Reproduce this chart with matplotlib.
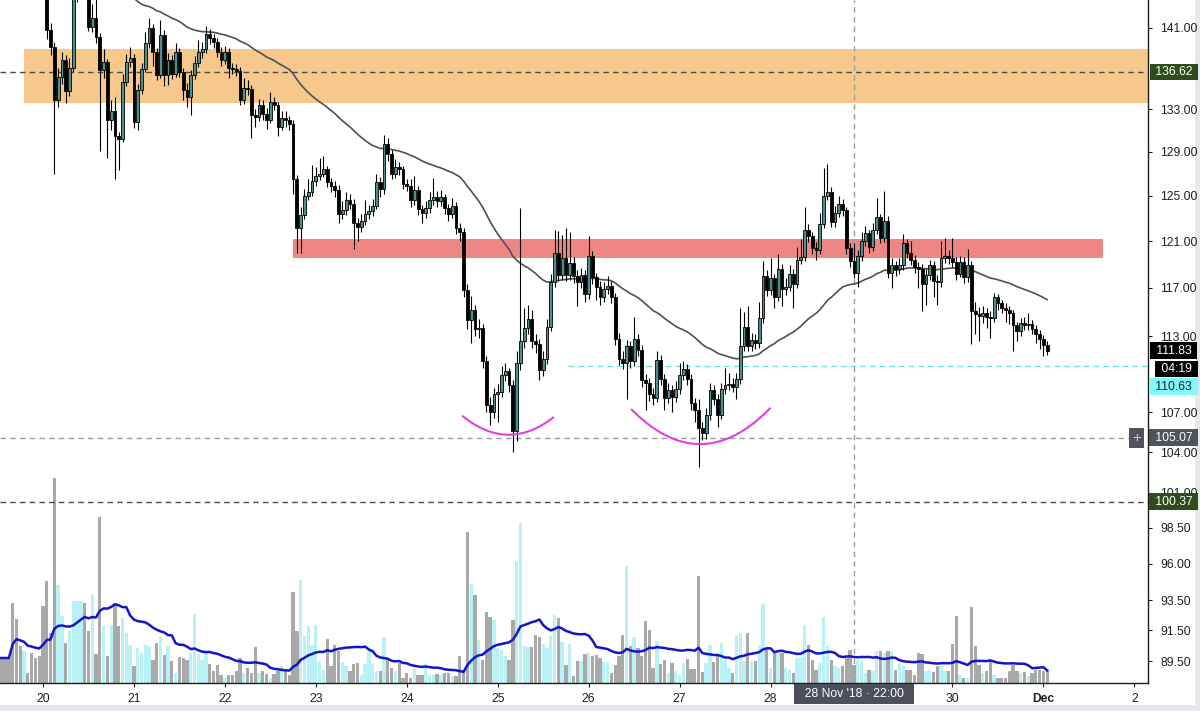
#!/usr/bin/env python3
"""Hourly candles with two zones, EMA, volume overlay and price tags."""
import numpy as np
import pandas as pd
import matplotlib
matplotlib.use("Agg")
import matplotlib.pyplot as plt
from matplotlib.patches import Rectangle
from matplotlib.ticker import FixedLocator, FixedFormatter, NullLocator, NullFormatter

plt.rcParams["font.family"] = ["Liberation Sans", "DejaVu Sans"]

START = pd.Timestamp("2018-11-19 13:00")
FIRST_OPEN = 158.5

closes = [
    157.5, 156.8, 155.2, 154.0, 153.1, 151.6, 152.4, 150.3, 149.1, 148.2,
    147.0, 145.5, 140.8, 139.1, 133.9, 136.1, 137.8, 134.8, 137.0, 144.2,
    145.3, 146.0, 145.0, 141.1, 142.0, 140.1, 136.8, 137.6, 132.0, 132.8,
    130.5, 130.2, 135.6, 137.6, 138.0, 131.8, 134.9, 136.9, 139.5, 141.0,
    138.6, 136.3, 140.3, 136.3, 137.8, 136.4, 138.6, 136.6, 134.9, 134.2,
    136.3, 137.5, 138.6, 138.9, 140.4, 140.0, 139.6, 138.6, 137.8, 138.6,
    137.0, 136.9, 136.7, 133.9, 135.1, 135.0, 132.5, 132.3, 133.4, 132.6,
    132.0, 133.7, 133.4, 131.3, 132.2, 132.0, 131.6, 126.5, 122.1, 123.3,
    125.0, 125.3, 126.3, 126.8, 127.0, 127.4, 126.2, 125.9, 125.5, 123.4,
    123.7, 124.6, 124.3, 122.6, 122.2, 122.8, 123.4, 123.6, 124.1, 126.2,
    125.6, 129.7, 128.8, 127.0, 127.6, 127.4, 126.1, 125.9, 124.6, 125.5,
    123.8, 123.5, 123.9, 124.6, 124.9, 124.5, 124.9, 123.9, 123.4, 124.1,
    122.1, 121.8, 116.8, 114.3, 115.2, 113.6, 113.7, 111.0, 107.6, 107.0,
    108.4, 108.6, 109.9, 110.2, 109.1, 105.6, 110.9, 112.6, 113.7, 114.4,
    112.6, 112.4, 110.3, 111.2, 113.8, 117.5, 120.0, 118.1, 119.5, 118.1,
    119.1, 118.0, 117.5, 118.1, 116.5, 119.7, 117.9, 117.1, 116.2, 116.9,
    117.2, 116.2, 112.8, 111.2, 110.9, 112.2, 111.0, 112.8, 111.9, 109.5,
    109.3, 108.4, 108.1, 111.1, 109.6, 108.1, 108.7, 108.2, 108.8, 109.9,
    110.4, 109.6, 107.7, 107.2, 105.8, 105.4, 106.8, 108.7, 108.0, 106.8,
    108.8, 109.1, 109.2, 109.0, 109.6, 112.2, 113.8, 112.2, 112.7, 112.5,
    114.5, 118.0, 116.8, 117.8, 116.2, 118.6, 116.9, 117.1, 118.2, 117.3,
    119.4, 119.6, 122.0, 121.4, 120.4, 120.2, 122.5, 125.0, 125.3, 122.7,
    123.5, 124.3, 123.7, 120.4, 119.3, 118.3, 119.7, 121.0, 121.7, 120.5,
    122.0, 123.1, 121.3, 122.8, 118.3, 118.9, 118.6, 118.9, 120.8, 120.0,
    119.4, 118.8, 118.6, 117.3, 118.1, 118.9, 117.6, 117.5, 119.5, 119.7,
    119.5, 119.2, 118.2, 119.2, 117.9, 118.9, 115.1, 114.8, 114.7, 114.9,
    114.6, 114.5, 116.2, 115.7, 115.3, 115.2, 114.9, 113.9, 113.4, 114.1,
    113.9, 114.0, 113.6, 113.2, 112.8, 112.3, 111.83,
]

highs = [
    159.2, 158.1, 157.3, 155.8, 154.6, 153.7, 153.2, 152.9, 150.8, 149.7,
    148.9, 147.6, 146.0, 141.5, 139.6, 137.0, 138.6, 138.3, 138.0, 144.9,
    146.4, 147.1, 146.8, 145.6, 143.4, 144.6, 140.5, 138.9, 137.9, 133.9,
    134.2, 130.9, 136.4, 138.4, 139.1, 138.4, 135.4, 137.5, 140.6, 142.0,
    141.4, 139.0, 141.8, 140.8, 138.5, 138.3, 139.5, 139.0, 137.0, 135.5,
    136.8, 138.2, 139.8, 139.6, 141.2, 140.9, 140.4, 140.0, 139.1, 139.2,
    139.0, 137.5, 137.4, 137.1, 136.0, 135.8, 135.3, 133.0, 134.0, 133.9,
    133.1, 134.7, 134.2, 133.7, 132.8, 132.8, 132.4, 132.0, 126.9, 124.0,
    125.6, 126.5, 127.8, 127.6, 128.4, 128.6, 127.7, 126.6, 126.3, 126.0,
    124.5, 125.3, 125.2, 124.7, 123.0, 123.4, 124.6, 124.2, 124.7, 127.0,
    126.7, 130.6, 130.3, 129.2, 128.3, 128.1, 127.7, 126.5, 126.5, 126.8,
    125.9, 124.2, 124.5, 125.3, 126.6, 125.4, 125.5, 125.2, 124.3, 124.8,
    124.4, 122.6, 122.1, 117.3, 116.3, 115.6, 114.4, 114.0, 111.4, 108.2,
    108.9, 109.2, 110.6, 110.9, 110.5, 109.5, 111.8, 123.9, 115.3, 115.6,
    115.2, 113.2, 112.8, 111.8, 114.4, 118.2, 122.0, 121.9, 121.5, 122.1,
    121.8, 119.6, 118.5, 118.7, 118.5, 121.4, 120.1, 118.3, 117.6, 117.5,
    118.0, 117.6, 116.6, 113.3, 111.8, 112.7, 112.6, 114.6, 113.2, 112.3,
    110.0, 109.7, 108.9, 111.8, 111.5, 110.0, 109.3, 109.1, 109.4, 110.9,
    111.0, 110.8, 110.0, 108.1, 108.0, 106.3, 107.3, 109.3, 109.1, 108.4,
    109.3, 110.5, 110.1, 109.7, 110.1, 115.3, 115.0, 115.5, 113.3, 113.2,
    115.8, 119.3, 118.5, 119.5, 118.2, 119.9, 119.0, 117.8, 118.9, 118.6,
    120.5, 121.2, 124.0, 122.5, 121.8, 120.9, 123.5, 127.5, 127.9, 125.8,
    124.1, 125.0, 124.7, 124.0, 120.8, 120.8, 120.2, 121.8, 122.3, 122.0,
    122.6, 124.8, 123.4, 125.4, 123.2, 119.5, 119.3, 119.5, 121.6, 121.2,
    121.0, 119.8, 119.2, 119.0, 118.6, 119.4, 119.3, 118.1, 121.0, 121.3,
    120.2, 121.3, 119.6, 119.7, 119.6, 120.3, 119.3, 115.8, 115.4, 115.5,
    115.3, 115.1, 116.6, 116.5, 116.0, 115.7, 115.5, 115.2, 114.2, 114.5,
    114.6, 114.9, 114.3, 113.9, 113.5, 113.1, 112.6,
]

lows = [
    156.9, 156.2, 154.6, 153.4, 152.4, 150.9, 151.0, 149.6, 148.4, 147.5,
    146.2, 144.6, 139.9, 138.3, 127.0, 133.2, 135.4, 133.6, 134.3, 136.6,
    143.7, 144.8, 144.2, 140.7, 140.6, 139.5, 129.1, 136.0, 128.4, 131.0,
    126.5, 127.3, 129.9, 135.2, 137.1, 131.2, 131.0, 134.5, 136.6, 139.0,
    137.2, 135.8, 136.0, 135.2, 135.3, 135.9, 136.1, 136.1, 133.9, 133.2,
    132.5, 135.9, 137.1, 138.0, 138.5, 139.4, 139.0, 138.1, 137.2, 137.4,
    136.0, 136.4, 136.2, 133.4, 133.5, 134.4, 130.3, 131.3, 131.9, 132.0,
    131.1, 131.7, 132.9, 130.5, 131.0, 131.3, 131.0, 125.2, 120.0, 120.0,
    122.9, 124.6, 125.0, 125.9, 126.4, 126.7, 125.8, 125.3, 124.9, 122.6,
    122.9, 123.3, 123.8, 120.3, 121.0, 121.8, 122.4, 122.9, 123.2, 123.8,
    124.9, 125.2, 128.2, 126.5, 126.6, 126.9, 125.6, 125.4, 124.0, 124.2,
    123.3, 122.6, 123.0, 123.5, 124.2, 124.0, 124.1, 123.4, 122.8, 123.0,
    121.6, 121.0, 116.2, 113.6, 112.5, 113.0, 112.9, 110.5, 107.0, 106.0,
    106.6, 106.3, 108.2, 109.4, 108.6, 104.0, 104.8, 110.3, 112.1, 113.2,
    112.1, 111.7, 109.5, 109.8, 110.8, 113.4, 117.1, 117.6, 117.7, 117.6,
    117.7, 117.4, 115.5, 117.0, 115.8, 116.1, 117.3, 116.0, 115.6, 115.8,
    116.5, 115.7, 112.3, 110.7, 110.4, 108.0, 110.5, 110.6, 111.4, 109.0,
    107.2, 107.9, 107.6, 107.8, 109.1, 107.2, 107.7, 107.0, 107.8, 108.4,
    109.5, 109.1, 107.2, 106.3, 102.9, 104.9, 105.0, 106.4, 107.6, 105.9,
    106.5, 108.4, 108.7, 108.6, 108.0, 109.2, 111.8, 111.8, 111.8, 112.0,
    112.1, 114.1, 116.3, 116.4, 115.3, 115.9, 115.5, 116.4, 116.7, 115.3,
    117.0, 119.0, 119.3, 120.9, 119.9, 119.4, 119.9, 122.1, 124.6, 122.2,
    122.2, 123.1, 123.2, 119.9, 118.8, 117.8, 117.1, 119.3, 120.6, 120.0,
    120.1, 121.6, 120.8, 120.9, 117.8, 117.0, 118.0, 118.2, 118.5, 119.5,
    118.9, 118.3, 117.0, 115.1, 115.6, 117.7, 116.2, 115.6, 117.1, 119.1,
    119.0, 118.8, 117.7, 117.9, 117.4, 117.5, 112.4, 113.2, 112.6, 114.1,
    113.7, 112.9, 114.2, 115.2, 114.9, 114.2, 114.0, 111.8, 112.6, 113.0,
    113.5, 113.5, 113.2, 112.5, 112.0, 111.4, 111.5,
]

volumes = [
    25, 25, 25, 80, 64, 37, 32, 10, 30, 25,
    27, 77, 102, 50, 205, 98, 67, 40, 52, 82,
    82, 82, 80, 52, 88, 29, 166, 57, 27, 58,
    80, 57, 65, 50, 38, 17, 35, 30, 38, 37,
    23, 40, 47, 28, 37, 22, 10, 26, 25, 23,
    30, 69, 29, 23, 30, 19, 12, 18, 8, 5,
    8, 8, 12, 25, 10, 15, 10, 36, 10, 12,
    9, 5, 9, 12, 17, 12, 8, 91, 52, 103,
    47, 57, 38, 58, 22, 13, 44, 17, 38, 32,
    21, 17, 12, 19, 20, 8, 19, 32, 19, 12,
    12, 46, 25, 15, 12, 20, 5, 10, 5, 15,
    8, 8, 19, 8, 8, 9, 8, 10, 10, 7,
    7, 27, 13, 151, 99, 88, 43, 23, 71, 66,
    63, 35, 33, 27, 23, 63, 122, 160, 37, 36,
    36, 48, 46, 39, 35, 47, 68, 65, 41, 18,
    39, 7, 22, 22, 29, 30, 27, 28, 25, 21,
    21, 10, 18, 27, 48, 117, 37, 46, 35, 27,
    62, 53, 15, 42, 19, 23, 10, 20, 12, 8,
    20, 24, 14, 14, 107, 11, 20, 38, 21, 28,
    40, 23, 15, 10, 48, 50, 22, 50, 22, 22,
    38, 79, 35, 15, 30, 30, 30, 15, 13, 10,
    25, 25, 58, 38, 23, 13, 20, 66, 37, 23,
    17, 15, 17, 25, 33, 18, 23, 22, 10, 13,
    12, 32, 32, 30, 32, 32, 13, 20, 17, 13,
    13, 8, 30, 29, 12, 13, 11, 17, 17, 12,
    12, 39, 67, 8, 5, 5, 76, 37, 18, 10,
    12, 22, 8, 5, 5, 5, 12, 18, 12, 10,
    11, 7, 10, 13, 13, 12, 12,
]

price_ticks = [141, 133, 129, 125, 121, 117, 113, 107, 104, 101, 98.5, 96, 93.5, 91.5, 89.5]
# the label for the 29th sits under the crosshair date tag, as in the screenshot
day_labels = ["20", "21", "22", "23", "24", "25", "26", "27", "28", "", "30", "Dec", "2"]
day_dates = pd.date_range("2018-11-20", "2018-12-02", freq="D")

orange_zone = (133.6, 138.85)
orange_from = pd.Timestamp("2018-11-19 19:00")
red_zone = (119.57, 121.2)
red_span = (pd.Timestamp("2018-11-22 18:00"), pd.Timestamp("2018-12-01 15:40"))

level_dark = [136.62, 100.37]
level_cross = 105.07
cyan_level = 110.63
cyan_from = pd.Timestamp("2018-11-25 18:30")
cross_time = pd.Timestamp("2018-11-28 22:00")

arc1_times = pd.to_datetime(["2018-11-24 14:48", "2018-11-25 02:48", "2018-11-25 14:36"])
arc1_prices = [106.7, 105.3, 106.6]
arc2_times = pd.to_datetime(["2018-11-26 11:24", "2018-11-27 04:36", "2018-11-27 23:48"])
arc2_prices = [107.2, 104.6, 107.3]

FS = 8.7
TEAL = "#4e8e8e"
VOL_UP, VOL_DN = "#b8f2f6", "#a9a9a9"


def hours(ts):
    return (pd.to_datetime(ts) - START) / pd.Timedelta(hours=1)


n = len(closes)
t = np.arange(n)
c = np.array(closes)
o = np.concatenate([[FIRST_OPEN], c[:-1]])
up = c >= o

fig = plt.figure(figsize=(12, 7.11), dpi=100)
rect = [0, 28 / 711, 1148 / 1200, 683 / 711]
axv = fig.add_axes(rect)
ax = fig.add_axes(rect, sharex=axv)
ax.patch.set_alpha(0)

# volume overlay
axv.bar(t, volumes, width=0.88, color=np.where(up, VOL_UP, VOL_DN), linewidth=0)
vol_ma = pd.Series(volumes).rolling(20, min_periods=1).mean()
axv.plot(t, vol_ma, color="#1414c8", lw=1.8)
axv.set_ylim(0, 683)
axv.axis("off")

# zones
ax.add_patch(Rectangle((hours(orange_from), orange_zone[0]), 400, orange_zone[1] - orange_zone[0],
                       facecolor="#f6c88c", edgecolor="none", zorder=1))
ax.add_patch(Rectangle((hours(red_span[0]), red_zone[0]), hours(red_span[1]) - hours(red_span[0]),
                       red_zone[1] - red_zone[0], facecolor="#ee8784", edgecolor="none", zorder=1))

# levels
dash = (0, (4, 3))
for lv in level_dark:
    ax.axhline(lv, color="#4a4a4a", lw=1, ls=dash, zorder=2)
ax.axhline(level_cross, color="#9e9e9e", lw=1, ls=dash, zorder=2)
ax.plot([hours(cyan_from), 400], [cyan_level, cyan_level], color="#63e3e6", lw=1, ls=dash, zorder=2)
ax.axvline(hours(cross_time), color="#9e9e9e", lw=1, ls=dash, zorder=2)

# EMA
ema = pd.Series(closes).ewm(span=50, adjust=False).mean()
ax.plot(t, ema, color="#505050", lw=1.2, zorder=3)

# candles
ax.vlines(t, lows, highs, color="black", lw=0.8, zorder=4)
ax.bar(t, np.abs(c - o), bottom=np.minimum(o, c), width=0.74,
       color=np.where(up, TEAL, "black"), edgecolor="black", linewidth=0.6, zorder=5)

# arcs
for times, prices in [(arc1_times, arc1_prices), (arc2_times, arc2_prices)]:
    hx = hours(times)
    coef = np.polyfit(hx, np.log(prices), 2)
    xs = np.linspace(hx[0], hx[-1], 60)
    ax.plot(xs, np.exp(np.polyval(coef, xs)), color="#e040e0", lw=1.5, zorder=6)

# axes
ax.set_yscale("log")
ax.set_ylim(88.11, 143.86)
ax.set_xlim(-0.34, 302.6)
ax.yaxis.tick_right()
ax.yaxis.set_major_locator(FixedLocator(price_ticks))
ax.yaxis.set_major_formatter(FixedFormatter([f"{p:.2f}" for p in price_ticks]))
ax.yaxis.set_minor_locator(NullLocator())
ax.yaxis.set_minor_formatter(NullFormatter())
ax.xaxis.set_major_locator(FixedLocator(hours(day_dates)))
ax.xaxis.set_major_formatter(FixedFormatter(day_labels))
ax.tick_params(axis="y", length=3, width=0.8, pad=6, labelsize=FS, colors="#1e1e1e")
ax.tick_params(axis="x", length=3, width=0.8, pad=4, labelsize=FS, colors="#1e1e1e")
for lab in ax.get_xticklabels():
    if lab.get_text() == "Dec":
        lab.set_fontweight("bold")
for s in ("top", "left"):
    ax.spines[s].set_visible(False)
for s in ("right", "bottom"):
    ax.spines[s].set_color("#1e1e1e")
    ax.spines[s].set_linewidth(1)


def price_tag(y, text, fc, tc="white", dy=0, dx=18.7, fs=FS):
    ax.annotate(text, xy=(1, y), xycoords=ax.get_yaxis_transform(),
                xytext=(dx, dy), textcoords="offset points", ha="center", va="center",
                fontsize=fs, color=tc, annotation_clip=False, zorder=10,
                bbox=dict(boxstyle="square,pad=0.2", fc=fc, ec="none"))


price_tag(136.62, " 136.62 ", "#2e4c1c")
price_tag(100.37, " 100.37 ", "#2e4c1c")
price_tag(105.07, " 105.07 ", "#50535e")
price_tag(105.07, "+", "#50535e", tc="#d0d3da", dx=-8, fs=11)
price_tag(closes[-1], f" {closes[-1]:.2f} ", "black")
price_tag(closes[-1], " 04:19 ", "black", dy=-13, dx=20.5)
price_tag(cyan_level, " 110.63 ", "#80fafc", tc="#1e1e1e", dy=-15)

ax.annotate("  28 Nov '18 · 22:00  ", xy=(hours(cross_time), 0), xycoords=ax.get_xaxis_transform(),
            xytext=(0, -8), textcoords="offset points", ha="center", va="center",
            fontsize=FS, color="white", annotation_clip=False, zorder=10,
            bbox=dict(boxstyle="square,pad=0.3", fc="#4c505b", ec="none"))

# screenshot frame
fig.patches.append(Rectangle((0, 0), 1, 6 / 711, transform=fig.transFigure,
                             facecolor="#e6e7eb", edgecolor="none", zorder=-1))
fig.patches.append(Rectangle((1195 / 1200, 0), 5 / 1200, 1, transform=fig.transFigure,
                             facecolor="#e6e7eb", edgecolor="none", zorder=-1))

fig.savefig("out.png", dpi=100)
